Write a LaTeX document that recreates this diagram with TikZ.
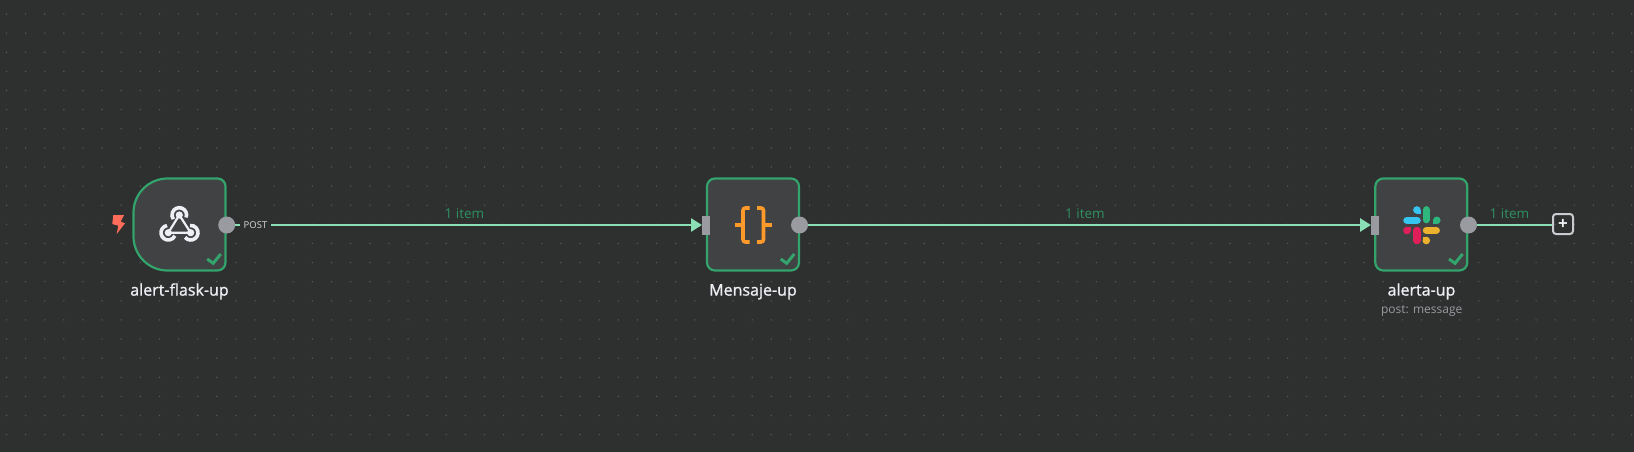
\documentclass[tikz,border=0pt]{standalone}
\usepackage{fontspec}
\setmainfont{Open Sans}
\newfontfamily\semibfont[FakeBold=1.1]{Open Sans}
\usetikzlibrary{arrows.meta}
\definecolor{canvas}{HTML}{2E2F2F}
\definecolor{griddot}{HTML}{565757}
\definecolor{cardfill}{HTML}{414244}
\definecolor{okgreen}{HTML}{32A46C}
\definecolor{edgegreen}{HTML}{8ADFB5}
\definecolor{labelgreen}{HTML}{2F9263}
\definecolor{portgrey}{HTML}{9A9BA1}
\definecolor{iconwhite}{HTML}{EEEFF4}
\definecolor{bracketorange}{HTML}{FF9A2A}
\definecolor{boltred}{HTML}{FF6D5A}
\definecolor{slackb}{HTML}{36C5F0}
\definecolor{slackg}{HTML}{2EB67D}
\definecolor{slacky}{HTML}{ECB22E}
\definecolor{slackr}{HTML}{E01E5A}
\tikzset{
  cardskin/.style={draw=okgreen,line width=2.2pt,fill=cardfill},
  cardbox/.style={minimum width=92pt,minimum height=92pt,inner sep=0pt,outer sep=0pt},
  outport/.style={circle,fill=portgrey,minimum size=17pt,inner sep=0pt,outer sep=0pt},
  inport/.style={rectangle,fill=portgrey,minimum width=8pt,minimum height=19pt,inner sep=0pt,outer sep=0pt},
  edgeline/.style={draw=edgegreen,line width=2.7pt},
  edgearrow/.style={edgeline,-{Triangle[length=11pt,width=13pt]}},
  itemlabel/.style={text=labelgreen,font=\fontsize{13.5}{15}\selectfont,anchor=base,inner sep=0pt},
  titlelabel/.style={text=iconwhite,font=\fontsize{16}{18}\selectfont\semibfont,anchor=base,inner sep=0pt},
  sublabel/.style={text=portgrey,font=\fontsize{12}{14}\selectfont,anchor=base,inner sep=0pt},
  okstroke/.style={draw=okgreen,line width=3pt},
  hookring/.style={draw=iconwhite,line width=3.6pt},
  hookbar/.style={draw=iconwhite,line width=2.2pt},
  bracket/.style={draw=bracketorange,line width=3.6pt,rounded corners=2.5pt},
  bracketstub/.style={draw=bracketorange,line width=3.2pt},
  pill/.style={line width=7.5pt,line cap=round},
}
\newcommand{\okmark}[1]{\draw[okstroke] ([shift={(27.7,34.5)}]#1.center) -- ([shift={(33.7,38.8)}]#1.center) -- ([shift={(41.3,29.5)}]#1.center);}
\newcommand{\hookarc}[3]{\draw[hookring] ([shift={(#2:7.3pt)}]#1) arc[start angle=#2,end angle=#3,radius=7.3pt];}
\newcommand{\teardrop}[5]{\fill[#1] (#2,#3) circle (3.8pt); \fill[#1] (#2,#3) rectangle (#4,#5);}
\begin{document}
\begin{tikzpicture}[x=1pt,y=-1pt]
\useasboundingbox (0,0) rectangle (1634,452);
\fill[canvas] (0,0) rectangle (1634,452);
% dotted grid
\foreach \i in {0,...,85}{\foreach \j in {0,...,22}{
  \fill[griddot] ({6.5+19.12*\i},{14+19.12*\j}) circle (0.8pt);
}}
% cards
\node[cardbox] (n1) at (179.5,224.5) {};
\draw[cardskin] ([xshift=34pt]n1.north west) -- ([xshift=-8pt]n1.north east)
  arc[start angle=90,end angle=0,radius=8pt] -- ([yshift=8pt]n1.south east)
  arc[start angle=0,end angle=-90,radius=8pt] -- ([xshift=34pt]n1.south west)
  arc[start angle=-90,end angle=-180,radius=34pt] -- ([yshift=-34pt]n1.north west)
  arc[start angle=180,end angle=90,radius=34pt] -- cycle;
\node[cardbox,cardskin,rounded corners=8pt] (n2) at (753,224.5) {};
\node[cardbox,cardskin,rounded corners=8pt] (n3) at (1421.3,224.5) {};
\okmark{n1}\okmark{n2}\okmark{n3}
% ports
\node[outport] (out1) at (226.7,225) {};
\node[inport] (in2) at (706,225) {};
\node[outport] (out2) at (799.5,225) {};
\node[inport] (in3) at (1375,225) {};
\node[outport] (out3) at (1468.5,225) {};
\node[draw=iconwhite!85!black,line width=2pt,rounded corners=3pt,minimum size=20pt,inner sep=0pt,outer sep=1pt,text=iconwhite,font=\fontsize{17}{17}\selectfont\bfseries] (plus) at (1563,224) {+};
% connectors
\node[inner sep=4pt,text=iconwhite!90!black,font=\fontsize{9.5}{11}\selectfont] (post) at (255.5,225.5) {POST};
\draw[edgeline] (out1) -- (out1-|post.west);
\draw[edgearrow] (post.east|-in2) -- (in2.west);
\draw[edgearrow] (out2) -- (in3.west);
\draw[edgeline] (out3) -- (out3-|plus.west);
\node[itemlabel] (lab1) at (464.5,218.5) {1 item};
\node[itemlabel] (lab2) at (1085,218.5) {1 item};
\node[itemlabel] (lab3) at (1509.5,218.5) {1 item};
% titles
\node[titlelabel] (t1) at (179.5,295.6) {alert-flask-up};
\node[titlelabel] (t2) at (753,295.6) {Mensaje-up};
\node[titlelabel] (t3) at (1421.5,295.6) {alerta-up};
\node[sublabel] (t4) at (1421.7,313) {post: message};
% bolt
\fill[boltred] (113.3,215) -- (124,215) -- (120.7,221.7) -- (125,223.3) -- (116.7,234) -- (118.3,225.7) -- (112.3,224) -- cycle;
% webhook icon
\coordinate (hv1) at (179.3,215);
\coordinate (hv2) at (168.3,232.7);
\coordinate (hv3) at (190.7,232.7);
\draw[hookbar] (hv1) -- (hv2) -- (hv3) -- cycle;
\fill[iconwhite] (hv1) circle (3.6pt);
\fill[iconwhite] (hv2) circle (3.6pt);
\fill[iconwhite] (hv3) circle (3.6pt);
\hookarc{hv1}{-20}{215}
\hookarc{hv3}{-140}{95}
\hookarc{hv2}{100}{335}
% code braces
\draw[bracket] (749.5,208) -- (743,208) -- (743,242) -- (749.5,242);
\draw[bracketstub] (735,225) -- (743,225);
\draw[bracket] (757,208) -- (763.5,208) -- (763.5,242) -- (757,242);
\draw[bracketstub] (771.5,225) -- (763.5,225);
% slack icon
\draw[pill,draw=slackb] (1407,220.3) -- (1417,220.3);
\teardrop{slackb}{1416.9}{210}{1420.7}{213.8}
\draw[pill,draw=slackg] (1426.3,209.8) -- (1426.3,219.6);
\teardrop{slackg}{1436.8}{220.3}{1433}{224.1}
\draw[pill,draw=slacky] (1426.5,230.5) -- (1436.2,230.5);
\teardrop{slacky}{1426.3}{240.5}{1422.5}{236.7}
\draw[pill,draw=slackr] (1417,230.5) -- (1417,240.5);
\teardrop{slackr}{1407}{230.5}{1410.8}{226.7}
\end{tikzpicture}
\end{document}
